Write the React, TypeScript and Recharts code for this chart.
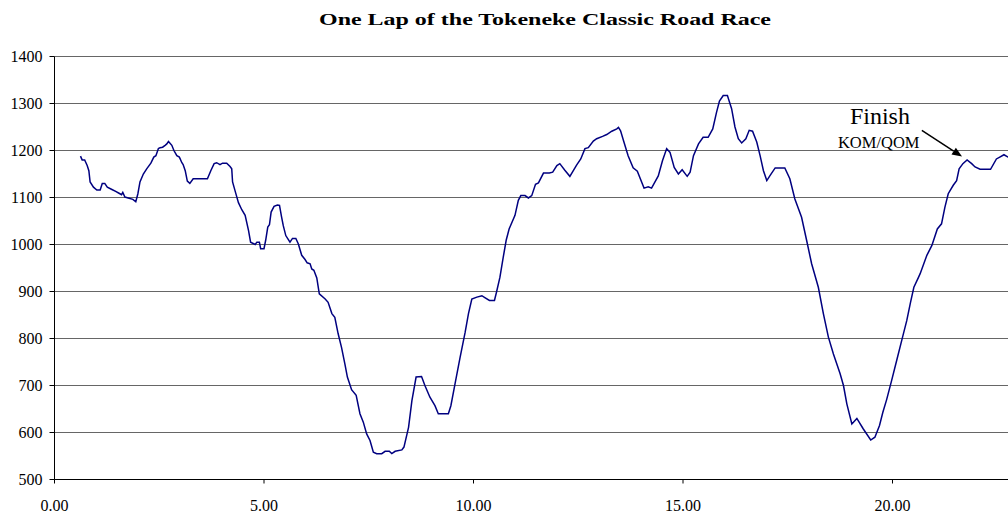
import React from 'react';
import { LineChart, Line, XAxis, YAxis, CartesianGrid, ReferenceLine, ReferenceDot } from 'recharts';

const titleText = 'One Lap of the Tokeneke Classic Road Race';
const finishLabel = 'Finish';
const komLabel = 'KOM/QOM';

const distanceKm = [
  0.62, 0.66, 0.72, 0.78, 0.82, 0.85, 0.93, 1.01, 1.09, 1.14, 1.2, 1.26, 1.37, 1.46, 1.54, 1.6, 1.63, 1.68, 1.76, 1.87,
  1.94, 1.99, 2.04, 2.12, 2.2, 2.3, 2.37, 2.42, 2.48, 2.52, 2.58, 2.64, 2.68, 2.72, 2.8, 2.85, 2.92, 2.98, 3.04, 3.07,
  3.12, 3.17, 3.23, 3.31, 3.47, 3.65, 3.73, 3.81, 3.87, 3.95, 4.01, 4.11, 4.19, 4.23, 4.25, 4.32, 4.39, 4.47, 4.55, 4.63,
  4.68, 4.79, 4.83, 4.89, 4.92, 5.0, 5.04, 5.09, 5.13, 5.17, 5.24, 5.32, 5.37, 5.42, 5.46, 5.52, 5.57, 5.62, 5.68, 5.76,
  5.82, 5.9, 5.98, 6.03, 6.1, 6.14, 6.19, 6.26, 6.32, 6.46, 6.53, 6.62, 6.69, 6.77, 6.85, 6.93, 6.99, 7.09, 7.2, 7.29,
  7.37, 7.45, 7.53, 7.61, 7.69, 7.81, 7.89, 7.99, 8.05, 8.13, 8.29, 8.34, 8.45, 8.53, 8.63, 8.76, 8.84, 8.96, 9.08, 9.16,
  9.4, 9.46, 9.56, 9.68, 9.8, 9.88, 9.96, 10.08, 10.2, 10.27, 10.38, 10.5, 10.55, 10.63, 10.71, 10.78, 10.85, 10.99, 11.07, 11.13,
  11.23, 11.31, 11.39, 11.48, 11.55, 11.67, 11.81, 11.89, 11.99, 12.06, 12.18, 12.3, 12.46, 12.56, 12.66, 12.74, 12.86, 12.94, 13.08, 13.18,
  13.3, 13.42, 13.46, 13.51, 13.59, 13.69, 13.81, 13.91, 14.07, 14.17, 14.25, 14.41, 14.51, 14.61, 14.69, 14.79, 14.89, 14.98, 15.1, 15.17,
  15.25, 15.37, 15.48, 15.6, 15.71, 15.8, 15.87, 15.96, 16.06, 16.16, 16.24, 16.32, 16.4, 16.5, 16.58, 16.66, 16.76, 16.84, 16.92, 17.0,
  17.08, 17.2, 17.43, 17.55, 17.67, 17.83, 17.95, 18.07, 18.23, 18.35, 18.47, 18.59, 18.75, 18.83, 18.91, 19.03, 19.15, 19.3, 19.48, 19.58,
  19.69, 19.77, 19.86, 19.98, 20.11, 20.24, 20.34, 20.43, 20.51, 20.62, 20.66, 20.82, 20.94, 21.07, 21.17, 21.25, 21.33, 21.45, 21.53, 21.59,
  21.68, 21.78, 21.89, 21.97, 22.09, 22.34, 22.48, 22.56, 22.66, 22.76, 22.85,
];

const elevationFt = [
  1188, 1180, 1180, 1168, 1157, 1133, 1122, 1116, 1116, 1130, 1130, 1122, 1117, 1113, 1109, 1106, 1111, 1101, 1099, 1096,
  1091, 1108, 1133, 1150, 1161, 1173, 1186, 1189, 1204, 1206, 1207, 1211, 1214, 1219, 1211, 1200, 1189, 1186, 1174, 1170,
  1157, 1135, 1130, 1140, 1140, 1140, 1157, 1172, 1174, 1170, 1173, 1173, 1166, 1161, 1133, 1111, 1089, 1074, 1062, 1030,
  1005, 1000, 1005, 1005, 991, 991, 1009, 1037, 1042, 1069, 1081, 1084, 1083, 1058, 1040, 1019, 1012, 1005, 1013, 1013,
  1001, 977, 968, 961, 959, 948, 945, 929, 895, 884, 877, 853, 845, 810, 781, 746, 718, 691, 679, 640,
  622, 597, 583, 558, 555, 555, 560, 560, 555, 560, 563, 569, 611, 668, 718, 719, 700, 675, 657, 640,
  640, 657, 704, 760, 813, 853, 884, 888, 891, 887, 881, 881, 899, 930, 973, 1009, 1033, 1062, 1094, 1104,
  1104, 1099, 1104, 1128, 1131, 1152, 1152, 1154, 1168, 1172, 1158, 1145, 1169, 1182, 1204, 1206, 1220, 1225, 1230, 1234,
  1241, 1246, 1249, 1242, 1218, 1189, 1163, 1156, 1120, 1123, 1120, 1146, 1178, 1204, 1196, 1164, 1150, 1159, 1145, 1154,
  1189, 1214, 1228, 1228, 1246, 1281, 1305, 1317, 1317, 1289, 1250, 1225, 1216, 1225, 1243, 1241, 1218, 1189, 1157, 1136,
  1147, 1163, 1163, 1140, 1097, 1058, 1009, 959, 909, 853, 803, 767, 725, 700, 661, 618, 630, 608, 584, 590,
  615, 643, 670, 711, 757, 803, 838, 877, 909, 930, 938, 977, 998, 1033, 1044, 1079, 1108, 1126, 1136, 1161,
  1172, 1180, 1172, 1165, 1160, 1160, 1182, 1186, 1191, 1186, 1183,
];

const xTicks = [0, 5, 10, 15, 20];
const yTicks = [500, 600, 700, 800, 900, 1000, 1100, 1200, 1300, 1400];

const finishAt = { x: 19.7, y: 1257 };
const komAt = { x: 19.67, y: 1206 };
const arrowFrom = { x: 20.7, y: 1243 };
const arrowTo = { x: 21.66, y: 1187 };

const data = distanceKm.map((d, i) => ({ dist: d, elev: elevationFt[i] }));

const FONT = '"Liberation Serif", "Times New Roman", serif';

const ArrowShape = (props: any) => {
  const { x1, y1, x2, y2 } = props;
  const ang = Math.atan2(y2 - y1, x2 - x1);
  const len = 10;
  const w = 4;
  const bx = x2 - len * Math.cos(ang);
  const by = y2 - len * Math.sin(ang);
  const px = -Math.sin(ang) * w;
  const py = Math.cos(ang) * w;
  return (
    <g>
      <line x1={x1} y1={y1} x2={bx} y2={by} stroke="#000" strokeWidth={1.5} />
      <polygon points={`${x2},${y2} ${bx + px},${by + py} ${bx - px},${by - py}`} fill="#000" />
    </g>
  );
};

const textShape = (label: string, size: number) => (props: any) => (
  <text x={props.cx} y={props.cy} textAnchor="middle" fontFamily={FONT} fontSize={size} fill="#000">
    {label}
  </text>
);

export default function App() {
  return (
    <div style={{ position: 'fixed', left: 0, top: 0, width: 1008, height: 514, overflow: 'hidden', background: '#fff' }}>
      <svg width={1008} height={40} style={{ position: 'absolute', left: 0, top: 0 }}>
        <text
          x={545}
          y={25}
          textAnchor="middle"
          fontFamily={FONT}
          fontWeight="bold"
          fontSize={17.5}
          textLength={452}
          lengthAdjust="spacingAndGlyphs"
          fill="#000"
        >
          {titleText}
        </text>
      </svg>
      <LineChart
        width={1110}
        height={514}
        data={data}
        margin={{ top: 56.5, right: 8, bottom: 0, left: 0 }}
      >
        <CartesianGrid horizontal vertical={false} stroke="#666" />
        <XAxis
          dataKey="dist"
          type="number"
          domain={[0, 25]}
          ticks={xTicks}
          tickFormatter={(v: number) => v.toFixed(2)}
          height={34.5}
          tickSize={4}
          tickMargin={16}
          axisLine={{ stroke: '#000' }}
          tickLine={{ stroke: '#000' }}
          tick={{ fill: '#000', fontFamily: FONT, fontSize: 16 }}
          interval={0}
        />
        <YAxis
          type="number"
          domain={[500, 1400]}
          ticks={yTicks}
          width={54.5}
          tickSize={5}
          tickMargin={7}
          axisLine={{ stroke: '#000' }}
          tickLine={{ stroke: '#000' }}
          tick={{ fill: '#000', fontFamily: FONT, fontSize: 16 }}
          interval={0}
        />
        <Line
          type="linear"
          dataKey="elev"
          stroke="#000080"
          strokeWidth={1.5}
          dot={false}
          isAnimationActive={false}
        />
        <ReferenceLine segment={[arrowFrom, arrowTo]} shape={ArrowShape} />
        <ReferenceDot x={finishAt.x} y={finishAt.y} r={0} shape={textShape(finishLabel, 24)} />
        <ReferenceDot x={komAt.x} y={komAt.y} r={0} shape={textShape(komLabel, 16.5)} />
      </LineChart>
    </div>
  );
}
